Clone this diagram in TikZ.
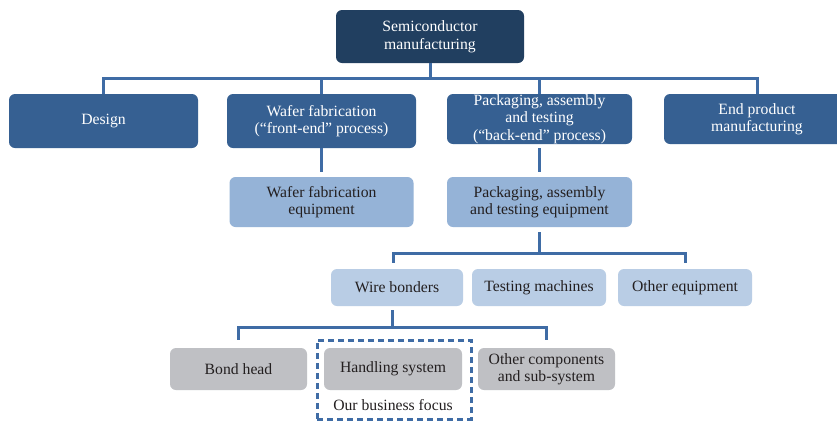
\documentclass[tikz,border=0pt]{standalone}
\usepackage{fontspec}
\setmainfont{Liberation Serif}
\definecolor{navy}{RGB}{33,63,96}
\definecolor{midblue}{RGB}{54,96,146}
\definecolor{lightblue}{RGB}{149,179,215}
\definecolor{paleblue}{RGB}{185,205,229}
\definecolor{boxgray}{RGB}{191,192,196}
\definecolor{linecol}{RGB}{63,108,165}
\definecolor{txt}{RGB}{35,31,32}
\tikzset{
  box/.style={rectangle, rounded corners=6pt, inner sep=0pt, align=center,
    font=\fontsize{15.7}{17.5}\selectfont},
  lvlzero/.style={box, fill=navy, text=white},
  lvlone/.style={box, fill=midblue, text=white},
  lvltwo/.style={box, fill=lightblue, text=txt},
  lvlthree/.style={box, fill=paleblue, text=txt},
  lvlfour/.style={box, fill=boxgray, text=txt},
  conn/.style={draw=linecol, line width=3pt},
  focusbox/.style={draw=linecol, line width=3pt, dash pattern=on 6pt off 4pt, rectangle, inner sep=0pt}
}
\begin{document}
\begin{tikzpicture}[x=1pt,y=-1pt]
\useasboundingbox (0,0) rectangle (837,421);
\clip (0,0) rectangle (837,421);
\fill[white] (0,0) rectangle (837,421);

% nodes
\node[lvlzero, minimum width=188pt, minimum height=53pt] (top) at (430,36.5) {Semiconductor\\manufacturing};

\node[lvlone, minimum width=189pt, minimum height=54pt] (design) at (103.5,121) {Design};
\node[lvlone, minimum width=189pt, minimum height=54pt] (wafer) at (321.5,121) {Wafer fabrication\\(“front-end” process)};
\node[lvlone, minimum width=185pt, minimum height=50pt] (pack) at (539.5,119) {Packaging, assembly\\and testing\\(“back-end” process)};
\node[lvlone, minimum width=186pt, minimum height=50pt] (endp) at (757,119) {End product\\manufacturing};

\node[lvltwo, minimum width=184pt, minimum height=50pt] (wafereq) at (321.5,202) {Wafer fabrication\\equipment};
\node[lvltwo, minimum width=185pt, minimum height=50pt] (packeq) at (539.5,202) {Packaging, assembly\\and testing equipment};

\node[lvlthree, minimum width=132pt, minimum height=37pt] (wire) at (397,287.5) {Wire bonders};
\node[lvlthree, minimum width=134pt, minimum height=37pt] (testing) at (539,287.5) {Testing machines};
\node[lvlthree, minimum width=134pt, minimum height=37pt] (othereq) at (685,287.5) {Other equipment};

\node[focusbox, minimum width=154pt, minimum height=79pt] (focus) at (394,379.5) {};
\node[lvlfour, minimum width=137pt, minimum height=42pt] (bond) at (238.5,369) {Bond head};
\node[lvlfour, minimum width=138pt, minimum height=42pt] (handling) at (393,369) {Handling system};
\node[lvlfour, minimum width=137pt, minimum height=42pt] (othercomp) at (546.5,369) {Other components\\and sub-system};
\node[font=\fontsize{15.7}{17.5}\selectfont, text=txt, inner sep=0pt] (focuslabel) at (393,405) {Our business focus};

% level 1 bus
\coordinate (busA) at (430,78);
\draw[conn] (top.south) -- (busA);
\draw[conn] (design.north) -- (design.north |- busA) -- (endp.north |- busA) -- (endp.north);
\draw[conn] (wafer.north) -- (wafer.north |- busA);
\draw[conn] (pack.north) -- (pack.north |- busA);

% level 2
\draw[conn, shorten >=5pt] (wafer.south) -- (wafereq.north);
\draw[conn, shorten <=4pt, shorten >=5pt] (pack.south) -- (packeq.north);

% level 3 bus
\coordinate (busB) at (539.5,253);
\coordinate (busBl) at (393,253);
\coordinate (busBr) at (685,253);
\draw[conn, shorten <=5pt] (packeq.south) -- (busB);
\draw[conn, shorten <=6pt, shorten >=6pt] (wire.north -| busBl) -- (busBl) -- (busBr) -- (othereq.north -| busBr);

% level 4 bus
\coordinate (busC) at (392,327);
\draw[conn, shorten <=4pt] (wire.south -| busC) -- (busC);
\draw[conn, shorten <=8pt, shorten >=8pt] (bond.north) -- (bond.north |- busC) -- (othercomp.north |- busC) -- (othercomp.north);
\end{tikzpicture}
\end{document}
